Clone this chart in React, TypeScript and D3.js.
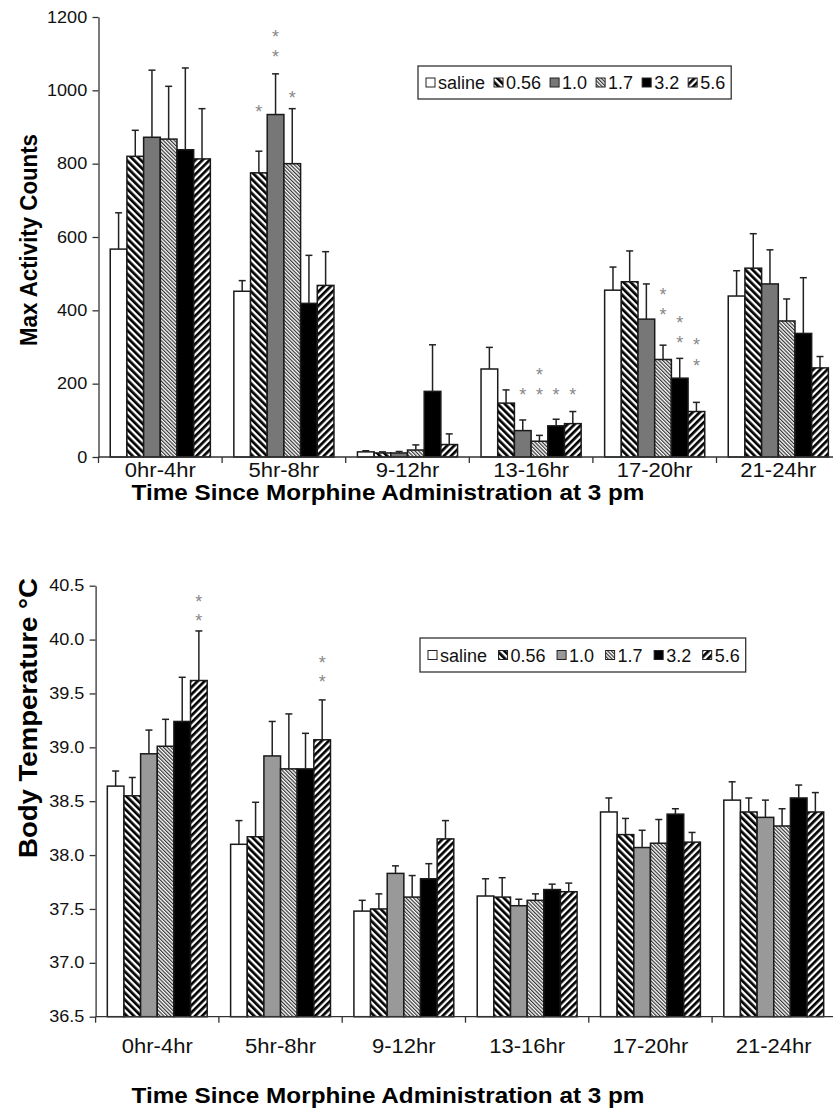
import React, { useEffect, useRef } from 'react';
import * as d3 from 'd3';

// time bins and morphine doses (mg/kg)
const groups = ['0hr-4hr', '5hr-8hr', '9-12hr', '13-16hr', '17-20hr', '21-24hr'];
const doses = ['saline', '0.56', '1.0', '1.7', '3.2', '5.6'];

// max activity counts, one row per time bin, columns follow doses
const activityMean = [
    [567, 820, 872, 867, 838, 813],
    [452, 775, 934, 800, 419, 468],
    [14, 11, 11, 19, 179, 34],
    [240, 147, 72, 43, 85, 91],
    [455, 478, 376, 266, 215, 124],
    [439, 515, 472, 371, 337, 243],
];
const activitySem = [
    [99, 71, 183, 144, 223, 137],
    [29, 59, 111, 150, 131, 92],
    [3, 3, 4, 14, 127, 29],
    [59, 36, 29, 16, 18, 33],
    [63, 84, 96, 39, 54, 25],
    [69, 94, 93, 60, 152, 31],
];
const activityTicks = [0, 200, 400, 600, 800, 1000, 1200];
// [time bin, dose, level of the asterisk]
const activityStars = [
    ['5hr-8hr', '0.56', 953],
    ['5hr-8hr', '1.0', 1102],
    ['5hr-8hr', '1.0', 1157],
    ['5hr-8hr', '1.7', 990],
    ['13-16hr', '1.0', 180],
    ['13-16hr', '1.7', 180],
    ['13-16hr', '1.7', 234],
    ['13-16hr', '3.2', 180],
    ['13-16hr', '5.6', 180],
    ['17-20hr', '1.7', 398],
    ['17-20hr', '1.7', 453],
    ['17-20hr', '3.2', 322],
    ['17-20hr', '3.2', 376],
    ['17-20hr', '5.6', 259],
    ['17-20hr', '5.6', 316],
];

// body temperature (°C)
const tempMean = [
    [38.64, 38.55, 38.94, 39.01, 39.24, 39.62],
    [38.10, 38.17, 38.92, 38.80, 38.80, 39.07],
    [37.48, 37.50, 37.83, 37.61, 37.78, 38.15],
    [37.62, 37.61, 37.53, 37.58, 37.68, 37.66],
    [38.40, 38.19, 38.07, 38.11, 38.38, 38.12],
    [38.51, 38.40, 38.35, 38.27, 38.53, 38.40],
];
const tempSem = [
    [0.14, 0.17, 0.22, 0.25, 0.41, 0.46],
    [0.22, 0.32, 0.32, 0.51, 0.33, 0.37],
    [0.10, 0.14, 0.07, 0.20, 0.14, 0.17],
    [0.16, 0.18, 0.06, 0.06, 0.05, 0.08],
    [0.13, 0.15, 0.16, 0.22, 0.05, 0.09],
    [0.17, 0.13, 0.16, 0.16, 0.12, 0.18],
];
const tempTicks = [36.5, 37.0, 37.5, 38.0, 38.5, 39.0, 39.5, 40.0, 40.5];
const tempStars = [
    ['0hr-4hr', '5.6', 40.21],
    ['0hr-4hr', '5.6', 40.39],
    ['5hr-8hr', '5.6', 39.64],
    ['5hr-8hr', '5.6', 39.82],
];

const xTitle = 'Time Since Morphine Administration at 3 pm';

const FONT = '"Liberation Sans", Arial, Helvetica, sans-serif';
const SX = 1.13; // the scanned figure's type is a bit wide

const panels = [
    {
        mean: activityMean, sem: activitySem, ticks: activityTicks, fmt: d3.format('d'),
        stars: activityStars, yTitle: 'Max Activity Counts', gray: '#777',
        left: 98.5, step: 123.6, top: 17, bottom: 457,
        yTitleY: 240, yTitleLen: 212, yTitleSize: 20.5, labelY: 470, titleY: 500,
        legend: { x: 418, y: 66, h: 33, gap: 9, padR: 6 },
    },
    {
        mean: tempMean, sem: tempSem, ticks: tempTicks, fmt: d3.format('.1f'),
        stars: tempStars, yTitle: 'Body Temperature °C', gray: '#999',
        left: 95.6, step: 123.3, top: 585.7, bottom: 1016.7,
        yTitleY: 718, yTitleLen: 280, yTitleSize: 22, labelY: 1046, titleY: 1103,
        legend: { x: 420, y: 638, h: 34, gap: 11.5, padR: 6 },
    },
];

function hatch(defs, id, size, width, angle, color) {
    const p = defs.append('pattern')
        .attr('id', id)
        .attr('patternUnits', 'userSpaceOnUse')
        .attr('width', size)
        .attr('height', size)
        .attr('patternTransform', `rotate(${angle})`);
    p.append('rect').attr('width', size).attr('height', size).attr('fill', '#fff');
    p.append('rect').attr('width', width).attr('height', size).attr('fill', color);
}

function drawPanel(svg, c) {
    const fills = ['#fff', 'url(#h056)', c.gray, 'url(#h17)', '#000', 'url(#h56)'];
    const g = svg.append('g').attr('font-family', FONT);

    const x0 = d3.scaleBand()
        .domain(groups)
        .range([c.left, c.left + c.step * groups.length])
        .paddingInner(0.19)
        .paddingOuter(0.095);
    const x1 = d3.scaleBand().domain(doses).range([0, x0.bandwidth()]);
    const y = d3.scaleLinear()
        .domain([c.ticks[0], c.ticks[c.ticks.length - 1]])
        .range([c.bottom, c.top]);

    const rows = groups.flatMap((grp, i) => doses.map((d, j) => ({
        grp, d, j, v: c.mean[i][j], e: c.sem[i][j],
    })));

    // bars
    g.append('g')
        .selectAll('rect')
        .data(rows)
        .join('rect')
        .attr('x', r => x0(r.grp) + x1(r.d))
        .attr('y', r => y(r.v))
        .attr('width', x1.bandwidth())
        .attr('height', r => y(c.ticks[0]) - y(r.v))
        .attr('fill', r => fills[r.j])
        .attr('stroke', '#1a1a1a')
        .attr('stroke-width', 1.5);

    // upper error bars
    const eb = g.append('g').attr('stroke', '#222').attr('stroke-width', 1.5);
    rows.forEach(r => {
        const cx = x0(r.grp) + x1(r.d) + x1.bandwidth() / 2;
        eb.append('line').attr('x1', cx).attr('x2', cx).attr('y1', y(r.v)).attr('y2', y(r.v + r.e));
        eb.append('line').attr('x1', cx - 3.5).attr('x2', cx + 3.5).attr('y1', y(r.v + r.e)).attr('y2', y(r.v + r.e));
    });

    // asterisks
    g.append('g')
        .selectAll('text')
        .data(c.stars)
        .join('text')
        .attr('x', s => x0(s[0]) + x1(s[1]) + x1.bandwidth() / 2)
        .attr('y', s => y(s[2]) + 10)
        .attr('text-anchor', 'middle')
        .attr('font-size', 18)
        .attr('fill', '#888')
        .text('*');

    // y axis
    const ya = g.append('g')
        .attr('transform', `translate(${c.left},0)`)
        .call(d3.axisLeft(y).tickValues(c.ticks).tickFormat(c.fmt).tickSize(6).tickSizeOuter(0).tickPadding(4));
    ya.select('.domain').attr('stroke', '#333').attr('stroke-width', 1.3);
    ya.selectAll('.tick line').attr('stroke', '#333').attr('stroke-width', 1.3);
    ya.selectAll('.tick text')
        .attr('font-size', 16)
        .attr('fill', '#111')
        .attr('font-family', FONT)
        .attr('transform', `scale(${SX},1)`);

    // x axis: labels at band centres, ticks between groups
    const xa = g.append('g')
        .attr('transform', `translate(0,${c.bottom})`)
        .call(d3.axisBottom(x0).tickSize(0));
    xa.select('.domain').remove();
    xa.selectAll('.tick text')
        .attr('y', c.labelY - c.bottom + 7)
        .attr('dy', null)
        .attr('font-size', 19.5)
        .attr('fill', '#111')
        .attr('font-family', FONT)
        .attr('transform', `scale(${SX},1)`);
    const [r0, r1] = x0.range();
    xa.append('line')
        .attr('x1', r0).attr('x2', r1)
        .attr('stroke', '#333').attr('stroke-width', 1.3);
    xa.selectAll('line.bound')
        .data(d3.range(groups.length + 1))
        .join('line')
        .attr('class', 'bound')
        .attr('x1', i => r0 + i * x0.step())
        .attr('x2', i => r0 + i * x0.step())
        .attr('y1', 0)
        .attr('y2', 6)
        .attr('stroke', '#333')
        .attr('stroke-width', 1.3);

    // axis titles
    g.append('text')
        .attr('transform', `translate(388,${c.titleY}) scale(${SX},1)`)
        .attr('text-anchor', 'middle')
        .attr('font-size', 21.5)
        .attr('font-weight', 'bold')
        .text(xTitle);
    g.append('text')
        .attr('transform', `translate(37,${c.yTitleY}) scale(${SX},1) rotate(-90)`)
        .attr('text-anchor', 'middle')
        .attr('font-size', c.yTitleSize)
        .attr('font-weight', 'bold')
        .attr('textLength', c.yTitleLen)
        .attr('lengthAdjust', 'spacingAndGlyphs')
        .text(c.yTitle);

    // legend
    const L = c.legend;
    const lg = g.append('g');
    const box = lg.append('rect')
        .attr('x', L.x).attr('y', L.y).attr('height', L.h)
        .attr('fill', '#fff').attr('stroke', '#333').attr('stroke-width', 1.3);
    const mid = L.y + L.h / 2;
    let cx = L.x + 8;
    doses.forEach((d, j) => {
        lg.append('rect')
            .attr('x', cx).attr('y', mid - 4.5)
            .attr('width', 9).attr('height', 9)
            .attr('fill', fills[j]).attr('stroke', '#222').attr('stroke-width', 1);
        const t = lg.append('text')
            .attr('x', cx + 12).attr('y', mid + 6.5)
            .attr('font-size', 18).attr('fill', '#111')
            .text(d);
        cx += 12 + t.node().getComputedTextLength() + L.gap;
    });
    box.attr('width', cx - L.gap + L.padR - L.x);
}

const App = () => {
    const svgRef = useRef(null);

    useEffect(() => {
        const svg = d3.select(svgRef.current);
        svg.selectAll('*').remove();
        const defs = svg.append('defs');
        hatch(defs, 'h056', 5, 2.7, -45, '#000');
        hatch(defs, 'h17', 2.6, 1.2, -45, '#333');
        hatch(defs, 'h56', 5, 2.7, 45, '#000');
        panels.forEach(p => drawPanel(svg, p));
    }, []);

    return (
        <svg ref={svgRef} width={833} height={1116}
            style={{ position: 'absolute', left: 0, top: 0, background: '#fff' }} />
    );
};

export default App;
